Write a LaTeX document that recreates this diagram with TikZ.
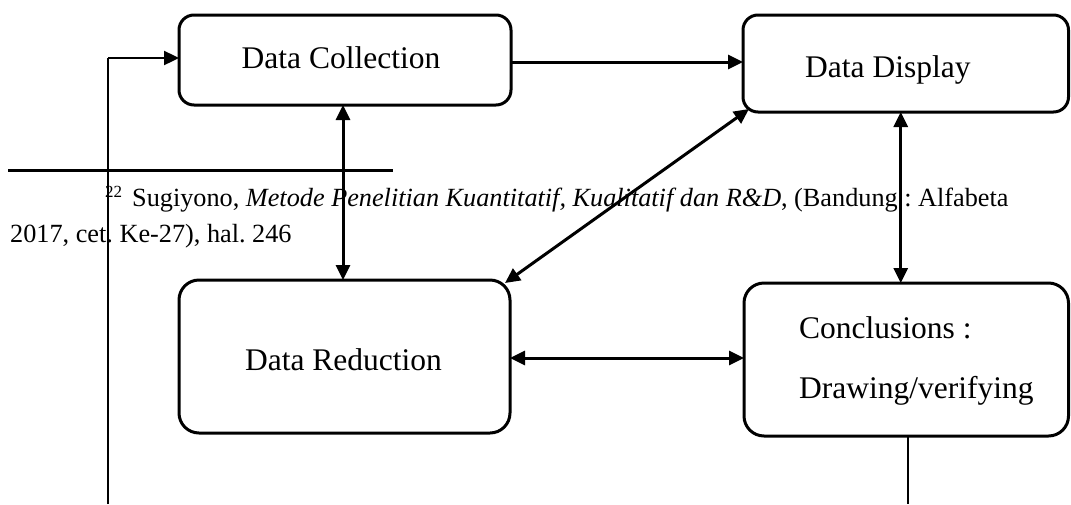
\documentclass[tikz,border=0pt]{standalone}
\usepackage{fontspec}
\setmainfont{Liberation Serif}
\usetikzlibrary{arrows.meta}
\begin{document}
\frenchspacing
\begin{tikzpicture}[x=1pt,y=-1pt,
  box/.style={draw, line width=3pt, rounded corners=15pt, inner sep=0pt, outer sep=0pt},
  bigbox/.style={box, rounded corners=20pt},
  lbl/.style={inner sep=0pt, font=\fontsize{31.5}{38}\selectfont},
  fn/.style={inner sep=0pt, font=\fontsize{26.25}{31}\selectfont, anchor=base west},
  conn/.style={line width=3pt, -{Triangle[length=15pt,width=14pt]}},
  biconn/.style={line width=3pt, {Triangle[length=15pt,width=14pt]}-{Triangle[length=15pt,width=14pt]}},
  thinline/.style={line width=1.6pt},
]
\useasboundingbox (0,0) rectangle (1071,504);

% boxes
\node[box, minimum width=332pt, minimum height=90pt] (dc) at (345,60) {};
\node[box, minimum width=325.5pt, minimum height=97pt] (dd) at (905.75,63.5) {};
\node[bigbox, minimum width=331pt, minimum height=153pt] (dr) at (344.5,356.5) {};
\node[bigbox, minimum width=324.5pt, minimum height=153pt] (cc) at (906.25,359.5) {};

% box texts
\node[lbl, anchor=base] (tdc) at (341,68) {Data Collection};
\node[lbl, anchor=base west] (tdd) at (805,77) {Data Display};
\node[lbl, anchor=base] (tdr) at (343.5,370) {Data Reduction};
\node[lbl, anchor=base west] (tc1) at (799,338) {Conclusions :};
\node[lbl, anchor=base west] (tc2) at (799,398) {Drawing/verifying};

% connectors
\draw[conn] ([yshift=-2pt]dc.east) -- ([yshift=-2pt]dc.east -| dd.west);
\draw[biconn] ([xshift=-2pt]dc.south) -- ([xshift=-2pt]dc.south |- dr.north);
\draw[biconn] ([xshift=-5pt]dd.south) -- ([xshift=-5pt]dd.south |- cc.north);
\draw[biconn] ([shift={(-5,3)}]dr.north east) -- ([shift={(6,-3)}]dd.south west);
\draw[biconn] ([yshift=-1.5pt]dr.east) -- ([yshift=-1.5pt]dr.east -| cc.west);

% feedback loop
\coordinate (fbl) at (108,504);
\coordinate (fbr) at (908,504);
\coordinate (fbc) at (108,58);
\draw[thinline] (fbl) -- (fbc);
\draw[conn, line width=2.4pt] (fbc) -- (fbc -| dc.west);
\draw[thinline] (cc.south -| fbr) -- (fbr);

% footnote
\coordinate (rl) at (8,170);
\coordinate (rr) at (393,170);
\draw[line width=3pt] (rl) -- (rr);
\node[inner sep=0pt, anchor=base west, font=\fontsize{17}{20}\selectfont] (fnm) at (105,197) {22};
\node[fn] (fn1) at (132,206) {Sugiyono, \textit{Metode Penelitian Kuantitatif, Kualitatif dan R\&D}, (Bandung : Alfabeta};
\node[fn] (fn2) at (10,242) {2017, cet. Ke-27), hal. 246};
\end{tikzpicture}
\end{document}
